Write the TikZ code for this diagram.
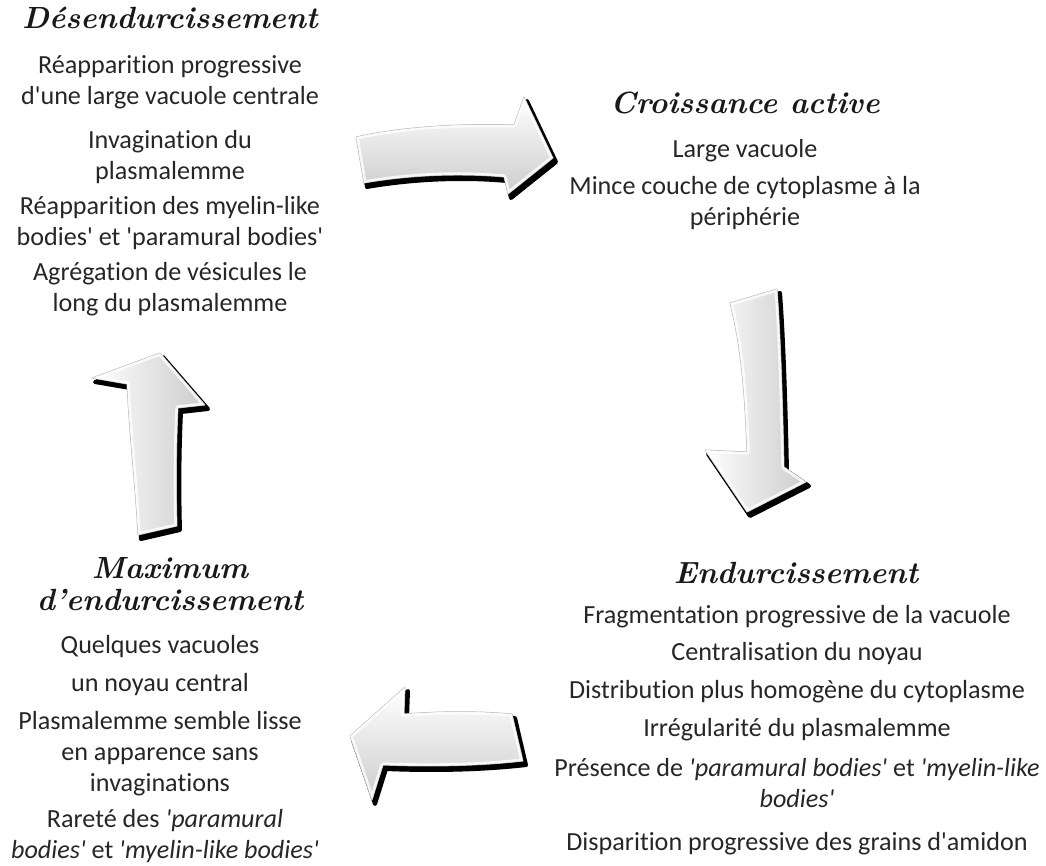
\documentclass[tikz,border=0pt]{standalone}
\usepackage{fontspec}
\newfontfamily\bodyfont{Carlito}[Ligatures={NoCommon}]
\begin{document}
\begin{tikzpicture}[x=0.75pt,y=-0.75pt]
\useasboundingbox (0,0) rectangle (1046,865);
\tikzset{
  body/.style={font=\bodyfont\fontsize{19.6}{23.3}\selectfont, align=center, inner sep=0pt, text=black!85},
  ttl/.style={font=\rmfamily\bfseries\itshape\fontsize{23}{24}\selectfont, align=center, inner sep=0pt, text=black!90},
  arrowshadow/.style={fill=black, draw=black, line width=3pt, line join=round},
  arrowedge/.style={draw=gray!60, line width=0.7pt, line join=round},
  arrowbevel/.style={draw=white, line width=4pt, line join=round},
}
\newcommand\shpA{(356,137) .. controls (400,127) and (460,123) .. (514,125) -- (524,97) -- (553,158) -- (508,194) -- (504,177) .. controls (460,173) and (410,175) .. (364,183) -- cycle}
\newcommand\shpB{(730,303) -- (777,289) .. controls (781,340) and (783,420) .. (784,467) -- (806,482) -- (747,512) -- (705,450) -- (747,452) .. controls (745,400) and (742,350) .. (730,303) -- cycle}
\newcommand\shpC{(512,714) -- (523,761) .. controls (480,766) and (430,767) .. (383,765) -- (372,800) -- (350,736) -- (405,687) -- (404,714) .. controls (440,711) and (480,711) .. (512,714) -- cycle}
\newcommand\shpD{(138,535) .. controls (135,480) and (129,430) .. (127,384) -- (92,378) -- (160,353) -- (205,405) -- (178,408) .. controls (176,450) and (176,490) .. (177,526) -- cycle}

% arrows
\path[arrowshadow, shift={(3,4)}] \shpA;
\path[arrowshadow, shift={(3,4)}] \shpB;
\path[arrowshadow, shift={(3,4)}] \shpC;
\path[arrowshadow, shift={(3,4)}] \shpD;
\path[top color=white, bottom color=gray!40, arrowedge] \shpA;
\begin{scope}\clip \shpA; \path[arrowbevel, opacity=0.8] \shpA; \end{scope}
\path[left color=white, right color=gray!40, arrowedge] \shpB;
\begin{scope}\clip \shpB; \path[arrowbevel, opacity=0.8] \shpB; \end{scope}
\path[top color=white, bottom color=gray!40, arrowedge] \shpC;
\begin{scope}\clip \shpC; \path[arrowbevel, opacity=0.8] \shpC; \end{scope}
\path[left color=white, right color=gray!40, arrowedge] \shpD;
\begin{scope}\clip \shpD; \path[arrowbevel, opacity=0.8] \shpD; \end{scope}

% top-left block
\node[ttl] (t1) at (170,18) {Désendurcissement};
\node[body] (a1) at (170,82) {Réapparition progressive\\d'une large vacuole centrale};
\node[body] (a2) at (170,157) {Invagination du\\plasmalemme};
\node[body] (a3) at (170,223) {Réapparition des myelin-like\\bodies' et 'paramural bodies'};
\node[body] (a4) at (170,289) {Agrégation de vésicules le\\long du plasmalemme};

% top-right block
\node[ttl] (t2) at (745,103) {Croissance active};
\node[body] (b1) at (745,151) {Large vacuole};
\node[body] (b2) at (745,203) {Mince couche de cytoplasme à la\\périphérie};

% bottom-right block
\node[ttl] (t3) at (796,573) {Endurcissement};
\node[body] (c1) at (797,617) {Fragmentation progressive de la vacuole};
\node[body] (c2) at (797,654) {Centralisation du noyau};
\node[body] (c3) at (797,692) {Distribution plus homogène du cytoplasme};
\node[body] (c4) at (797,730) {Irrégularité du plasmalemme};
\node[body] (c5) at (797,783) {Présence de \textit{'paramural bodies'} et \textit{'myelin-like}\\\textit{bodies'}};
\node[body] (c6) at (797,844) {Disparition progressive des grains d'amidon};

% bottom-left block
\node[ttl] (t4) at (170,584) {Maximum\\d'endurcissement};
\node[body] (d1) at (160,647) {Quelques vacuoles};
\node[body] (d2) at (160,685) {un noyau central};
\node[body] (d3) at (160,754) {Plasmalemme semble lisse\\en apparence sans\\invaginations};
\node[body] (d4) at (165,836) {Rareté des \textit{'paramural}\\\textit{bodies'} et \textit{'myelin-like bodies'}};
\end{tikzpicture}
\end{document}
